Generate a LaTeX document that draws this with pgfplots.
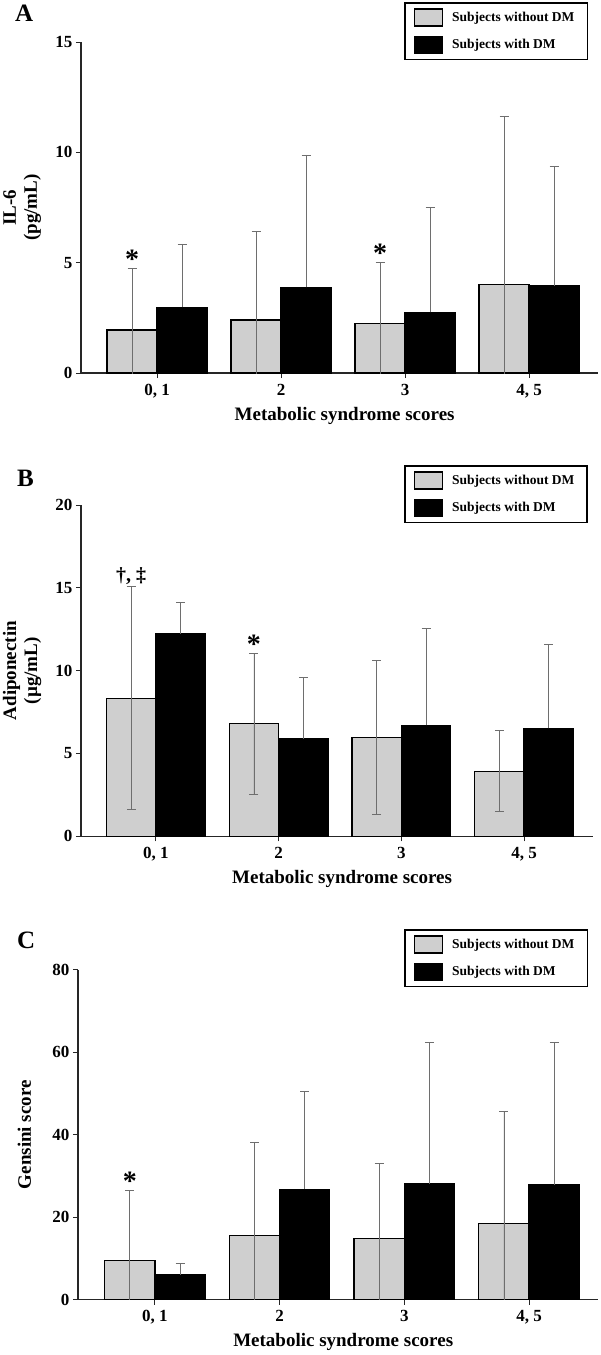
\documentclass[border=0pt]{standalone}
\usepackage{fontspec}
\setmainfont{Liberation Serif}
\usepackage{pgfplots}
\pgfplotsset{compat=1.18}

\definecolor{barGray}{HTML}{CFCFCF}
\definecolor{errGray}{HTML}{6E6E6E}

\tikzset{starnode/.style={font=\fontsize{28}{28}\selectfont\bfseries, anchor=base, inner sep=0pt}}

\pgfplotsset{
  mystyle/.style={
    scale only axis,
    axis lines=left,
    axis line style={-, line width=1.2pt, black!85},
    ybar,
    bar width=0.403,
    xtick={0,1,2,3},
    xticklabels={{0, 1},2,3,{4, 5}},
    tick align=outside,
    major tick length=5pt,
    tick style={line width=1pt, black!85},
    /pgf/number format/assume math mode=true,
    ticklabel style={font=\fontsize{17}{17}\selectfont\bfseries},
    xticklabel style={anchor=base, yshift=-17pt},
    yticklabel style={anchor=east},
    xlabel={Metabolic syndrome scores},
    xlabel style={at={(axis description cs:0.51,0)}, anchor=base, yshift=-47pt, font=\fontsize{19}{19}\selectfont\bfseries},
    ylabel style={anchor=center, align=center, font=\fontsize{19}{21}\selectfont\bfseries},
    legend cell align=left,
    legend image code/.code={\draw[#1, line width=1.3pt] (0pt,-8.5pt) rectangle (28pt,8.5pt);},
    legend style={anchor=north east, draw=black, line width=1.5pt, fill=white,
      inner xsep=8.8pt, inner ysep=5.5pt, row sep=9pt, column sep=5pt,
      font=\fontsize{13.5}{13.5}\selectfont\bfseries,
      nodes={inner xsep=4pt, inner ysep=0pt}},
  },
  gbar/.style={fill=barGray, draw=black, line width=1.2pt, bar shift=-0.2015,
    error bars/y dir=both, error bars/y explicit,
    error bars/error bar style={line width=0.8pt, errGray},
    error bars/error mark options={rotate=90, mark size=4.5pt, line width=0.8pt, errGray}},
  bbar/.style={fill=black, draw=black, line width=1.2pt, bar shift=0.2015,
    error bars/y dir=plus, error bars/y explicit,
    error bars/error bar style={line width=0.8pt, errGray},
    error bars/error mark options={rotate=90, mark size=4.5pt, line width=0.8pt, errGray}},
}

\begin{document}
\begin{tikzpicture}
\useasboundingbox (0pt,0pt) rectangle (600pt,-1355pt);

% ---------------- Panel A ----------------
\node[anchor=north west, inner sep=0pt, font=\fontsize{25}{25}\selectfont\bfseries] at (15pt,-5pt) {A};
\begin{axis}[mystyle,
  at={(81pt,-373pt)}, anchor=south west,
  width=517pt, height=331pt,
  xmin=-0.613, xmax=3.556,
  ymin=0, ymax=15, ytick={0,5,10,15},
  ylabel={IL-6\\(pg/mL)},
  ylabel style={at={(axis description cs:-0.114,0.5)}},
  legend style={at={(axis description cs:0.9807,1.1208)}},
]
\addplot[gbar] coordinates {(0,1.95) +- (0,2.79) (1,2.40) +- (0,4.03) (2,2.25) +- (0,2.76) (3,4.02) +- (0,7.59)};
\addlegendentry{Subjects without DM}
\addplot[bbar] coordinates {(0,2.98) +- (0,2.87) (1,3.88) +- (0,6.00) (2,2.75) +- (0,4.76) (3,3.96) +- (0,5.42)};
\addlegendentry{Subjects with DM}
\node[starnode] at (axis cs:-0.2015,4.74) {*};
\node[starnode] at (axis cs:1.7985,5.01) {*};
\end{axis}

% ---------------- Panel B ----------------
\node[anchor=north west, inner sep=0pt, font=\fontsize{25}{25}\selectfont\bfseries] at (17pt,-470pt) {B};
\begin{axis}[mystyle,
  at={(81pt,-836.3pt)}, anchor=south west,
  width=512pt, height=331.3pt,
  xmin=-0.611, xmax=3.562,
  ymin=0, ymax=20, ytick={0,5,10,15,20},
  ylabel={Adiponectin\\(µg/mL)},
  ylabel style={at={(axis description cs:-0.115,0.5)}},
  legend style={at={(axis description cs:0.9902,1.1207)}},
]
\addplot[gbar] coordinates {(0,8.34) +- (0,6.73) (1,6.79) +- (0,4.26) (2,5.98) +- (0,4.64) (3,3.93) +- (0,2.44)};
\addlegendentry{Subjects without DM}
\addplot[bbar] coordinates {(0,12.21) +- (0,1.91) (1,5.89) +- (0,3.68) (2,6.70) +- (0,5.87) (3,6.52) +- (0,5.07)};
\addlegendentry{Subjects with DM}
\node[starnode, font=\fontsize{20}{20}\selectfont\bfseries, yshift=5pt] at (axis cs:-0.2015,15.06) {†, ‡};
\node[starnode] at (axis cs:0.7985,11.04) {*};
\end{axis}

% ---------------- Panel C ----------------
\node[anchor=north west, inner sep=0pt, font=\fontsize{25}{25}\selectfont\bfseries] at (17pt,-932pt) {C};
\begin{axis}[mystyle,
  at={(78pt,-1299.7pt)}, anchor=south west,
  width=520pt, height=330pt,
  xmin=-0.617, xmax=3.553,
  ymin=0, ymax=80, ytick={0,20,40,60,80},
  ylabel={Gensini score},
  ylabel style={at={(axis description cs:-0.103,0.5)}},
  legend style={at={(axis description cs:0.9808,1.1233)}},
]
\addplot[gbar] coordinates {(0,9.45) +- (0,17.05) (1,15.5) +- (0,22.56) (2,14.9) +- (0,18.2) (3,18.4) +- (0,27.3)};
\addlegendentry{Subjects without DM}
\addplot[bbar] coordinates {(0,5.99) +- (0,2.74) (1,26.8) +- (0,23.6) (2,28.05) +- (0,34.25) (3,27.8) +- (0,34.5)};
\addlegendentry{Subjects with DM}
\node[starnode] at (axis cs:-0.2015,26.5) {*};
\end{axis}
\end{tikzpicture}
\end{document}
